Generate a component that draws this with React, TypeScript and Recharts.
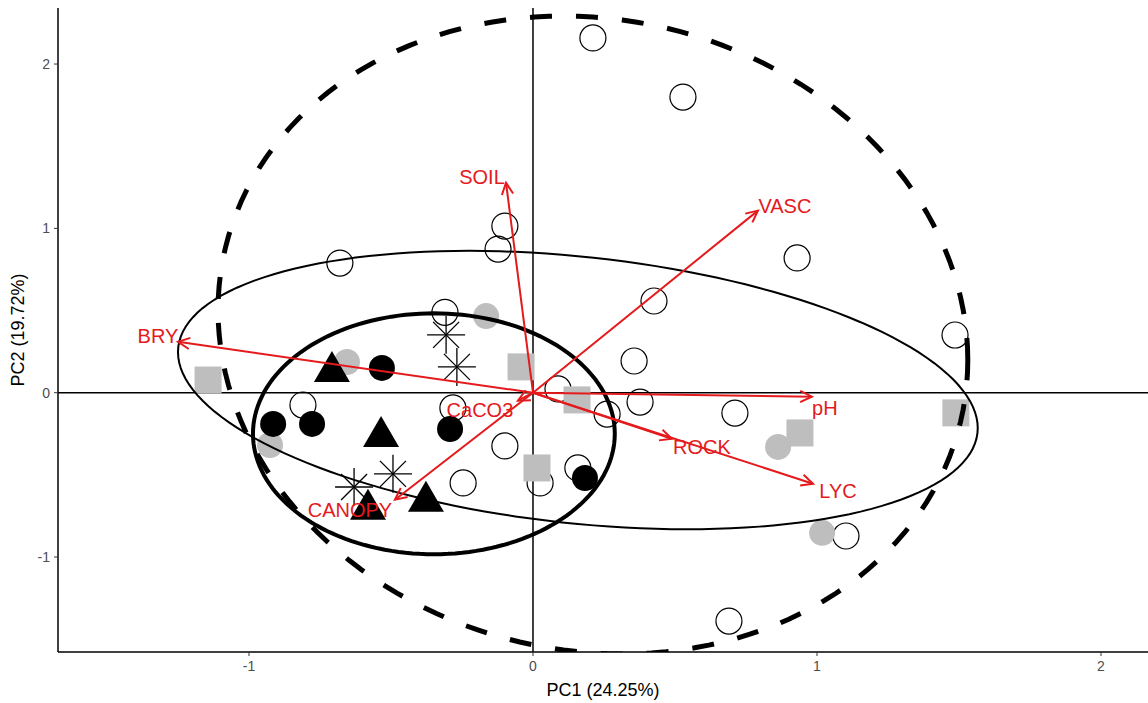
import { ScatterChart, Scatter, XAxis, YAxis, ReferenceLine, Label } from "recharts";

// axis ticks
const xTicks = [-1, 0, 1, 2];
const yTicks = [-1, 0, 1, 2];

// site scores, one array per marker type
const openCircles = [
  { x: 0.211, y: 2.159 }, { x: 0.528, y: 1.799 }, { x: -0.099, y: 1.014 }, { x: -0.123, y: 0.874 },
  { x: -0.68, y: 0.789 }, { x: 0.93, y: 0.82 }, { x: 0.426, y: 0.558 }, { x: -0.31, y: 0.489 },
  { x: 1.486, y: 0.351 }, { x: 0.356, y: 0.193 }, { x: 0.088, y: 0.023 }, { x: 0.377, y: -0.057 },
  { x: 0.261, y: -0.13 }, { x: 0.711, y: -0.124 }, { x: -0.81, y: -0.075 }, { x: -0.282, y: -0.093 },
  { x: -0.099, y: -0.324 }, { x: -0.246, y: -0.549 }, { x: 0.025, y: -0.549 }, { x: 0.158, y: -0.458 },
  { x: 1.102, y: -0.872 }, { x: 0.69, y: -1.39 },
];
const greyCircles = [
  { x: -0.165, y: 0.466 }, { x: -0.655, y: 0.187 }, { x: -0.926, y: -0.318 },
  { x: 0.863, y: -0.33 }, { x: 1.018, y: -0.853 },
];
const greySquares = [
  { x: -1.144, y: 0.077 }, { x: -0.042, y: 0.157 }, { x: 0.155, y: -0.044 },
  { x: 0.014, y: -0.458 }, { x: 0.94, y: -0.245 }, { x: 1.489, y: -0.123 },
];
const blackCircles = [
  { x: -0.532, y: 0.151 }, { x: -0.915, y: -0.19 }, { x: -0.778, y: -0.19 },
  { x: -0.292, y: -0.221 }, { x: 0.183, y: -0.519 },
];
const triangles = [
  { x: -0.708, y: 0.156 }, { x: -0.535, y: -0.239 }, { x: -0.377, y: -0.634 }, { x: -0.581, y: -0.682 },
];
const asterisks = [
  { x: -0.306, y: 0.352 }, { x: -0.268, y: 0.157 }, { x: -0.493, y: -0.494 }, { x: -0.63, y: -0.574 },
];

// variable loadings (arrow tips)
const loadingNames = ["BRY", "SOIL", "VASC", "pH", "ROCK", "LYC", "CANOPY", "CaCO3"];
const loadingX = [-1.25, -0.095, 0.792, 0.982, 0.489, 0.986, -0.486, -0.053];
const loadingY = [0.31, 1.278, 1.108, -0.024, -0.28, -0.554, -0.651, -0.049];
const labelDx = [-20, -24, 27, 13, 30, 25, -45, -38];
const labelDy = [-6, -6, -5, 11, 8, 7, 10, 9];

// confidence ellipses: centre, first and second semi-diameter
const dashedEllipse = { centre: [0.211, 0.351], a: [1.32, -0.152], b: [0, 1.935] };
const thinEllipse = { centre: [0.158, 0.016], a: [1.408, -0.231], b: [0, 0.815] };
const thickEllipse = { centre: [-0.349, -0.25], a: [0.637, 0], b: [0, 0.733] };

const RED = "#e41a1c";
const GREY = "#bebebe";

function ellipsePath(e: { centre: number[]; a: number[]; b: number[] }) {
  const pts = [];
  for (let i = 0; i <= 160; i++) {
    const t = (2 * Math.PI * i) / 160;
    pts.push({
      x: e.centre[0] + e.a[0] * Math.cos(t) + e.b[0] * Math.sin(t),
      y: e.centre[1] + e.a[1] * Math.cos(t) + e.b[1] * Math.sin(t),
    });
  }
  return pts;
}

const noDot = () => <g />;

function arrowShape(i: number) {
  return (p: any) => {
    const { x1, y1, x2, y2 } = p;
    const ang = Math.atan2(y2 - y1, x2 - x1);
    const len = 13;
    const sp = Math.PI / 7;
    const ax = x2 - len * Math.cos(ang - sp);
    const ay = y2 - len * Math.sin(ang - sp);
    const bx = x2 - len * Math.cos(ang + sp);
    const by = y2 - len * Math.sin(ang + sp);
    return (
      <g>
        <line x1={x1} y1={y1} x2={x2} y2={y2} stroke={RED} strokeWidth={2} />
        <polyline points={`${ax},${ay} ${x2},${y2} ${bx},${by}`} fill="none" stroke={RED} strokeWidth={2} />
        <text x={x2 + labelDx[i]} y={y2 + labelDy[i]} textAnchor="middle" dominantBaseline="central" fill={RED} fontSize={20}>
          {loadingNames[i]}
        </text>
      </g>
    );
  };
}

export default function App() {
  return (
    <div>
      <style>{"body{margin:0}"}</style>
      <ScatterChart
        width={1148}
        height={703}
        margin={{ top: 8, right: 0, left: 0, bottom: 0 }}
        style={{ fontFamily: "'Liberation Sans', Arial, sans-serif" }}
      >
        <XAxis
          type="number"
          dataKey="x"
          domain={[-1.6725, 2.1655]}
          allowDataOverflow
          ticks={xTicks}
          height={51}
          axisLine={{ stroke: "#000", strokeWidth: 1.5 }}
          tickLine={{ stroke: "#333" }}
          tickSize={4}
          tickMargin={5}
          tick={{ fill: "#4d4d4d", fontSize: 14 }}
        >
          <Label
            content={({ viewBox }: any) => (
              <text x={viewBox.x + viewBox.width / 2} y={viewBox.y + 44} textAnchor="middle" fontSize={18} fill="#000">
                PC1 (24.25%)
              </text>
            )}
          />
        </XAxis>
        <YAxis
          type="number"
          dataKey="y"
          domain={[-1.578, 2.341]}
          allowDataOverflow
          ticks={yTicks}
          width={58}
          axisLine={{ stroke: "#000", strokeWidth: 1.5 }}
          tickLine={{ stroke: "#333" }}
          tickSize={4}
          tickMargin={4}
          tick={{ fill: "#4d4d4d", fontSize: 14 }}
        >
          <Label
            content={({ viewBox }: any) => {
              const cx = viewBox.x + 24;
              const cy = viewBox.y + viewBox.height / 2;
              return (
                <text x={cx} y={cy} transform={`rotate(-90, ${cx}, ${cy})`} textAnchor="middle" fontSize={18} fill="#000">
                  PC2 (19.72%)
                </text>
              );
            }}
          />
        </YAxis>
        <ReferenceLine x={0} stroke="#000" strokeWidth={1.5} />
        <ReferenceLine y={0} stroke="#000" strokeWidth={1.5} />

        <Scatter data={openCircles} isAnimationActive={false}
          shape={(p: any) => <circle cx={p.cx} cy={p.cy} r={13} fill="none" stroke="#000" strokeWidth={1.2} />} />
        <Scatter data={greyCircles} isAnimationActive={false}
          shape={(p: any) => <circle cx={p.cx} cy={p.cy} r={13} fill={GREY} />} />
        <Scatter data={greySquares} isAnimationActive={false}
          shape={(p: any) => <rect x={p.cx - 13.5} y={p.cy - 13.5} width={27} height={27} fill={GREY} />} />
        <Scatter data={blackCircles} isAnimationActive={false}
          shape={(p: any) => <circle cx={p.cx} cy={p.cy} r={13} fill="#000" />} />
        <Scatter data={triangles} isAnimationActive={false}
          shape={(p: any) => (
            <polygon points={`${p.cx - 18},${p.cy + 15} ${p.cx + 18},${p.cy + 15} ${p.cx},${p.cy - 16}`} fill="#000" />
          )} />
        <Scatter data={asterisks} isAnimationActive={false}
          shape={(p: any) => (
            <g stroke="#000" strokeWidth={1.3}>
              <line x1={p.cx - 19} y1={p.cy} x2={p.cx + 19} y2={p.cy} />
              <line x1={p.cx} y1={p.cy - 19} x2={p.cx} y2={p.cy + 19} />
              <line x1={p.cx - 13} y1={p.cy - 13} x2={p.cx + 13} y2={p.cy + 13} />
              <line x1={p.cx - 13} y1={p.cy + 13} x2={p.cx + 13} y2={p.cy - 13} />
            </g>
          )} />

        <Scatter data={ellipsePath(thinEllipse)} isAnimationActive={false} fill="none" shape={noDot}
          line={{ stroke: "#000", strokeWidth: 2 }} lineType="joint" />
        <Scatter data={ellipsePath(thickEllipse)} isAnimationActive={false} fill="none" shape={noDot}
          line={{ stroke: "#000", strokeWidth: 4 }} lineType="joint" />
        <Scatter data={ellipsePath(dashedEllipse)} isAnimationActive={false} fill="none" shape={noDot}
          line={{ stroke: "#000", strokeWidth: 5, strokeDasharray: "22 24" }} lineType="joint" />

        {loadingNames.map((n, i) => (
          <ReferenceLine
            key={n}
            segment={[{ x: 0, y: 0 }, { x: loadingX[i], y: loadingY[i] }]}
            shape={arrowShape(i)}
            zIndex={2100}
          />
        ))}
      </ScatterChart>
    </div>
  );
}
